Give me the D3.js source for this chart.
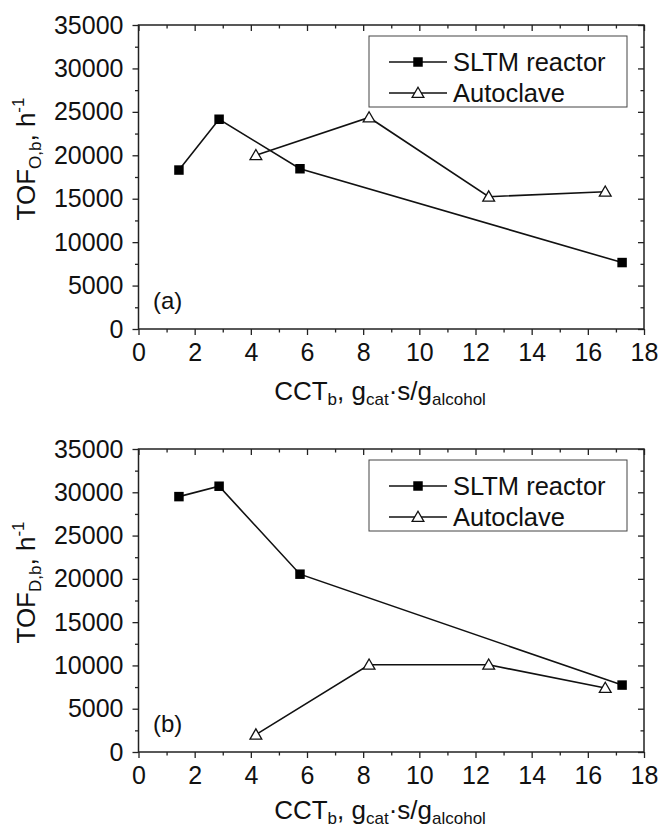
<!DOCTYPE html>
<html>
<head>
<meta charset="utf-8">
<script src="https://cdn.jsdelivr.net/npm/d3@7"></script>
<style>
  body { margin: 0; background: #fff; }
  svg { display: block; }
  text { font-family: "Liberation Sans", Arial, sans-serif; fill: #111; }
</style>
</head>
<body>
<svg id="chart"></svg>
<script>
// values
var seriesNames = ["SLTM reactor", "Autoclave"];
var xTicks = [0, 2, 4, 6, 8, 10, 12, 14, 16, 18];
var yTicks = [0, 5000, 10000, 15000, 20000, 25000, 30000, 35000];

var sltmX = [1.44, 2.87, 5.75, 17.22];
var autoX = [4.18, 8.21, 12.47, 16.62];

// panel (a): TOF_O,b
var sltmA = [18300, 24150, 18450, 7650];
var autoA = [20000, 24350, 15230, 15800];
// panel (b): TOF_D,b
var sltmB = [29500, 30700, 20540, 7730];
var autoB = [2000, 10070, 10070, 7390];

var W = 659, H = 832;
var svg = d3.select("#chart").attr("width", W).attr("height", H);

var panels = [
  {tag: "(a)", sub: "O,b", top: 25, bottom: 329, titleGap: 71, sltm: sltmA, auto: autoA},
  {tag: "(b)", sub: "D,b", top: 449, bottom: 752, titleGap: 67, sltm: sltmB, auto: autoB}
];

var left = 138.5, right = 644;
var x = d3.scaleLinear().domain([0, 18]).range([left, right]);

function zip(xs, ys) { return xs.map((v, i) => ({x: v, y: ys[i]})); }

function drawPanel(p) {
  var y = d3.scaleLinear().domain([0, 35000]).range([p.bottom, p.top]);
  var g = svg.append("g");

  // frame
  g.append("rect")
    .attr("x", left).attr("y", p.top)
    .attr("width", right - left).attr("height", p.bottom - p.top)
    .attr("fill", "none").attr("stroke", "#222").attr("stroke-width", 1.5);

  // bottom axis (outward ticks) + minor ticks
  g.append("g").attr("transform", `translate(0,${p.bottom})`)
    .call(d3.axisBottom(x).tickValues(xTicks).tickSize(6).tickPadding(8).tickFormat(d3.format("d")));
  g.append("g").attr("transform", `translate(0,${p.bottom})`)
    .call(d3.axisBottom(x).tickValues(d3.range(1, 18, 2)).tickSize(3.5).tickFormat(""));
  // top axis (inward ticks)
  g.append("g").attr("transform", `translate(0,${p.top})`)
    .call(d3.axisBottom(x).tickValues(xTicks).tickSize(6).tickFormat(""));
  g.append("g").attr("transform", `translate(0,${p.top})`)
    .call(d3.axisBottom(x).tickValues(d3.range(1, 18, 2)).tickSize(3.5).tickFormat(""));

  // left axis (outward) + minor
  g.append("g").attr("transform", `translate(${left},0)`)
    .call(d3.axisLeft(y).tickValues(yTicks).tickSize(6).tickPadding(9).tickFormat(d3.format("d")));
  g.append("g").attr("transform", `translate(${left},0)`)
    .call(d3.axisLeft(y).tickValues(d3.range(2500, 35000, 5000)).tickSize(3.5).tickFormat(""));
  // right axis (inward)
  g.append("g").attr("transform", `translate(${right},0)`)
    .call(d3.axisLeft(y).tickValues(yTicks).tickSize(6).tickFormat(""));
  g.append("g").attr("transform", `translate(${right},0)`)
    .call(d3.axisLeft(y).tickValues(d3.range(2500, 35000, 5000)).tickSize(3.5).tickFormat(""));

  g.selectAll(".domain").remove();
  g.selectAll(".tick line").attr("stroke", "#222").attr("stroke-width", 1.3);
  g.selectAll(".tick text").style("font-size", "25px").attr("fill", "#111")
    .style("font-family", "'Liberation Sans', Arial, sans-serif");

  // lines
  var line = d3.line().x(d => x(d.x)).y(d => y(d.y));
  var s1 = zip(sltmX, p.sltm), s2 = zip(autoX, p.auto);
  g.append("path").datum(s1).attr("d", line)
    .attr("fill", "none").attr("stroke", "#111").attr("stroke-width", 1.6);
  g.append("path").datum(s2).attr("d", line)
    .attr("fill", "none").attr("stroke", "#111").attr("stroke-width", 1.6);

  var sq = d3.symbol().type(d3.symbolSquare).size(90);
  var tri = d3.symbol().type(d3.symbolTriangle).size(60);
  g.selectAll(".sq").data(s1).enter().append("path")
    .attr("transform", d => `translate(${x(d.x)},${y(d.y)})`)
    .attr("d", sq).attr("fill", "#000");
  g.selectAll(".tri").data(s2).enter().append("path")
    .attr("transform", d => `translate(${x(d.x)},${y(d.y) + 1})`)
    .attr("d", tri).attr("fill", "#fff").attr("stroke", "#111").attr("stroke-width", 1.3);

  // panel tag
  g.append("text").attr("x", 153).attr("y", p.bottom - 20)
    .style("font-size", "24px").text(p.tag);

  // legend
  var lx = 369, ly = p.top + 11, lw = 258, lh = 71;
  g.append("rect").attr("x", lx).attr("y", ly).attr("width", lw).attr("height", lh)
    .attr("fill", "#fff").attr("stroke", "#444").attr("stroke-width", 1);
  seriesNames.forEach(function (name, i) {
    var yy = ly + 26 + i * 31;
    g.append("line").attr("x1", lx + 20).attr("x2", lx + 78).attr("y1", yy).attr("y2", yy)
      .attr("stroke", "#111").attr("stroke-width", 1.6);
    g.append("path").attr("transform", `translate(${lx + 49},${yy + (i ? 1 : 0)})`)
      .attr("d", i ? tri : sq)
      .attr("fill", i ? "#fff" : "#000").attr("stroke", i ? "#111" : "none").attr("stroke-width", 1.3);
    g.append("text").attr("x", lx + 84).attr("y", yy + 9)
      .style("font-size", "25.5px").text(name);
  });

  // y title
  var yt = g.append("text")
    .attr("transform", `translate(35,${(p.top + p.bottom) / 2 - 18}) rotate(-90)`)
    .attr("text-anchor", "middle").style("font-size", "26px");
  yt.append("tspan").text("TOF");
  yt.append("tspan").attr("dy", 6).style("font-size", "17px").text(p.sub);
  yt.append("tspan").attr("dy", -6).text(", h");
  yt.append("tspan").attr("dy", -11).style("font-size", "17px").text("-1");

  // x title
  var xt = g.append("text").attr("x", 380).attr("y", p.bottom + p.titleGap)
    .attr("text-anchor", "middle").style("font-size", "26px");
  xt.append("tspan").text("CCT");
  xt.append("tspan").attr("dy", 5).style("font-size", "17px").text("b");
  xt.append("tspan").attr("dy", -5).text(", g");
  xt.append("tspan").attr("dy", 5).style("font-size", "17px").text("cat");
  xt.append("tspan").attr("dy", -5).text("\u00b7s/g");
  xt.append("tspan").attr("dy", 5).style("font-size", "17px").text("alcohol");
}

panels.forEach(drawPanel);
</script>
</body>
</html>
